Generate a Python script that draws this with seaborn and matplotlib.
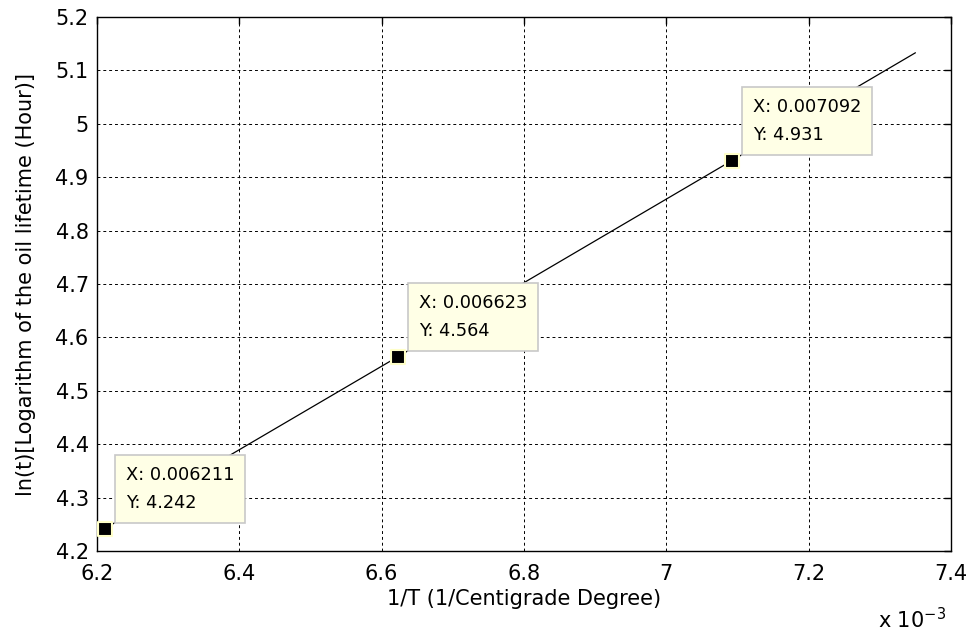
import matplotlib
matplotlib.use("Agg")
import matplotlib.pyplot as plt
import seaborn as sns
import numpy as np
import pandas as pd
from matplotlib.ticker import FuncFormatter

# data
line_x = [0.0062, 0.006211, 0.006623, 0.007092, 0.00735]
line_y = [4.233, 4.242, 4.564, 4.931, 5.133]
tip_x = [0.006211, 0.006623, 0.007092]
tip_y = [4.242, 4.564, 4.931]
x_ticks = [6.2, 6.4, 6.6, 6.8, 7.0, 7.2, 7.4]
y_ticks = [4.2, 4.3, 4.4, 4.5, 4.6, 4.7, 4.8, 4.9, 5.0, 5.1, 5.2]

sns.set_style("white")
plt.rcParams['font.family'] = ['DejaVu Sans']
plt.rcParams['text.color'] = 'black'
plt.rcParams['axes.labelcolor'] = 'black'

fig = plt.figure(figsize=(9.68, 6.31), dpi=100)
ax = fig.add_axes([97/968, 1-551/631, (951-97)/968, (551-17)/631])

df_line = pd.DataFrame({"x": line_x, "y": line_y})
df_tip = pd.DataFrame({"x": tip_x, "y": tip_y})
sns.lineplot(data=df_line, x="x", y="y", ax=ax, color="black", linewidth=0.9, zorder=3)
sns.scatterplot(data=df_tip, x="x", y="y", ax=ax, marker="s", s=110, color="black",
                edgecolor="#ffffc8", linewidth=1.5, zorder=5)

ax.set_xlim(0.0062, 0.0074)
ax.set_ylim(4.2, 5.2)
ax.set_xticks([v/1000 for v in x_ticks])
ax.set_yticks(y_ticks)
ax.xaxis.set_major_formatter(FuncFormatter(lambda v, p: "%g" % round(v*1000, 4)))
ax.yaxis.set_major_formatter(FuncFormatter(lambda v, p: "%g" % round(v, 4)))
ax.tick_params(direction="in", length=5, width=1, labelsize=15, colors="black")
ax.tick_params(axis="x", pad=9)
ax.tick_params(axis="y", pad=6)
ax.tick_params(top=True, right=True)
for s in ax.spines.values():
    s.set_color("black")
    s.set_linewidth(1.0)
ax.grid(True, color="black", linestyle=(0, (3, 3)), linewidth=0.7)
ax.set_axisbelow(True)

ax.set_xlabel("1/T (1/Centigrade Degree)", fontsize=15, labelpad=4, color="black")
ax.set_ylabel("ln(t)[Logarithm of the oil lifetime (Hour)]", fontsize=15, labelpad=14, color="black")

fig.text(912/968, 1-620/631, r"x 10$^{\mathregular{-3}}$", fontsize=15, ha="center", va="center",
         color="black")

for xv, yv in zip(tip_x, tip_y):
    ax.annotate("X: %s\nY: %s" % (("%.6f" % xv), ("%g" % yv)), xy=(xv, yv),
                xytext=(15, 12), textcoords="offset points", ha="left", va="bottom",
                fontsize=12.8, linespacing=1.7, color="black",
                bbox=dict(boxstyle="square,pad=0.62", fc="#ffffe6", ec="#c8c8c8", lw=1.2),
                zorder=6)

fig.savefig("out.png", dpi=100)
